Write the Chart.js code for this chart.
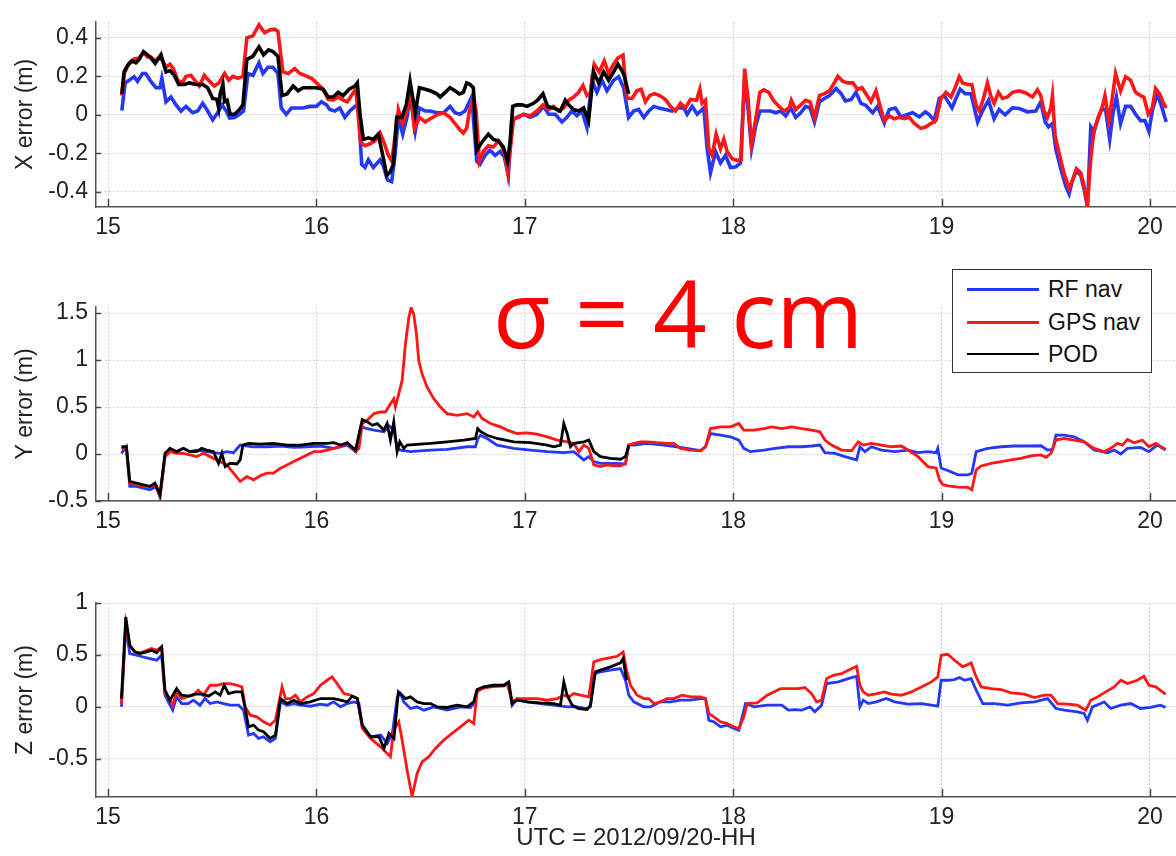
<!DOCTYPE html>
<html>
<head>
<meta charset="utf-8">
<script src="https://cdn.jsdelivr.net/npm/chart.js@4/dist/chart.umd.min.js"></script>
<style>
  body { margin: 0; width: 1176px; height: 856px; background: #fff; position: relative; overflow: hidden; }
  canvas { position: absolute; left: 0; }
  #legend { position: absolute; left: 952px; top: 269px; width: 198px; height: 102px; border: 1.5px solid #333; background: #fff;
            font-family: 'Liberation Sans', Arial, sans-serif; font-size: 23px; color: #111; }
  #legend .row { position: absolute; left: 0; height: 30px; width: 100%; }
  #legend .swatch { position: absolute; left: 14px; top: 14px; width: 72px; }
  #legend .label { position: absolute; left: 95px; top: 2px; }
  #sigma { position: absolute; left: 493px; top: 265px; font-family: 'Open Sans', 'Noto Sans', sans-serif; font-size: 94px; line-height: 94px; color: #ff0000; white-space: pre; }
</style>
</head>
<body>
<canvas id="chartX" width="1176" height="240" style="top:0px"></canvas>
<canvas id="chartY" width="1176" height="280" style="top:260px"></canvas>
<canvas id="chartZ" width="1176" height="296" style="top:560px"></canvas>
<div id="sigma">σ = 4 cm</div>
<div id="legend"></div>
<script>
// series names / colours (legend order)
const seriesNames = ['RF nav', 'GPS nav', 'POD'];
const seriesColors = ['#2438f5', '#ff1616', '#000000'];
const xTicks = [15, 16, 17, 18, 19, 20];
const xAxisTitle = 'UTC = 2012/09/20-HH';

// [hour, error (m)] pairs
const xRF = [[15.066,0.023],[15.082,0.166],[15.101,0.18],[15.125,0.198],[15.141,0.174],[15.165,0.215],[15.181,0.215],[15.205,0.174],[15.230,0.141],[15.249,0.141],[15.258,0.19],[15.278,0.068],[15.302,0.093],[15.326,0.052],[15.350,0.02],[15.374,0.044],[15.406,0.011],[15.430,0.02],[15.454,0.06],[15.478,0.02],[15.502,-0.026],[15.526,0.011],[15.547,0.052],[15.567,0.02],[15.583,-0.016],[15.607,-0.013],[15.631,0.003],[15.650,0.02],[15.671,0.215],[15.695,0.205],[15.724,0.27],[15.743,0.215],[15.767,0.247],[15.791,0.247],[15.815,0.215],[15.831,0.036],[15.855,0.003],[15.880,0.036],[15.904,0.036],[15.936,0.036],[15.968,0.044],[16.000,0.044],[16.024,0.068],[16.048,0.052],[16.064,0.028],[16.088,0.02],[16.112,0.036],[16.136,-0.013],[16.160,0.02],[16.185,0.044],[16.201,0.036],[16.217,-0.257],[16.233,-0.273],[16.249,-0.233],[16.273,-0.273],[16.305,-0.233],[16.321,-0.265],[16.341,-0.338],[16.361,-0.346],[16.377,-0.21],[16.393,-0.013],[16.414,-0.10],[16.436,-0.005],[16.449,0.11],[16.474,-0.086],[16.494,0.036],[16.522,0.02],[16.546,0.02],[16.578,0.011],[16.610,0.011],[16.641,0.044],[16.665,0.011],[16.689,0.003],[16.713,0.02],[16.745,0.093],[16.769,-0.24],[16.785,-0.257],[16.809,-0.21],[16.833,-0.184],[16.857,-0.21],[16.881,-0.19],[16.901,-0.216],[16.921,-0.314],[16.937,-0.03],[16.962,-0.013],[16.994,0.003],[17.026,-0.013],[17.058,0.003],[17.090,0.044],[17.114,0.003],[17.146,0.003],[17.178,-0.037],[17.202,-0.013],[17.226,0.02],[17.250,-0.005],[17.274,0.02],[17.298,-0.065],[17.322,0.18],[17.346,0.117],[17.370,0.18],[17.394,0.125],[17.426,0.18],[17.450,0.198],[17.474,0.141],[17.498,-0.013],[17.522,0.02],[17.546,0.028],[17.571,-0.013],[17.595,0.02],[17.619,0.044],[17.643,0.036],[17.675,0.028],[17.707,0.02],[17.739,0.036],[17.763,0.036],[17.779,0.003],[17.803,0.044],[17.827,0.003],[17.859,0.036],[17.875,-0.176],[17.891,-0.30],[17.915,-0.19],[17.939,-0.25],[17.963,-0.21],[17.987,-0.273],[18.011,-0.27],[18.035,-0.25],[18.055,0.198],[18.072,0.02],[18.088,-0.176],[18.107,-0.062],[18.128,0.02],[18.155,0.02],[18.180,0.02],[18.204,0.011],[18.228,0.02],[18.252,-0.005],[18.276,0.036],[18.300,-0.013],[18.324,0.011],[18.348,0.044],[18.369,0.036],[18.390,-0.037],[18.414,0.068],[18.438,0.085],[18.462,0.10],[18.494,0.137],[18.518,0.11],[18.538,0.072],[18.566,0.08],[18.589,0.117],[18.613,0.06],[18.637,0.049],[18.669,0.011],[18.693,0.044],[18.725,-0.042],[18.749,0.028],[18.778,0.036],[18.805,-0.01],[18.829,0],[18.861,0.011],[18.893,-0.01],[18.922,0.016],[18.941,0],[18.965,-0.03],[18.989,0.085],[19.013,0.10],[19.050,0.036],[19.069,0.085],[19.089,0.133],[19.113,0.11],[19.141,0.11],[19.173,-0.037],[19.196,0.02],[19.225,0.076],[19.252,-0.02],[19.276,0.028],[19.305,0],[19.340,0.036],[19.372,0.033],[19.412,0.016],[19.452,0.02],[19.476,0.068],[19.497,-0.037],[19.513,-0.062],[19.532,-0.045],[19.548,-0.176],[19.572,-0.28],[19.596,-0.37],[19.612,-0.41],[19.628,-0.34],[19.647,-0.29],[19.668,-0.314],[19.684,-0.387],[19.700,-0.476],[19.716,-0.062],[19.732,-0.086],[19.752,-0.013],[19.772,0.036],[19.788,0.02],[19.807,-0.127],[19.823,0.011],[19.839,0.093],[19.859,-0.045],[19.883,0.044],[19.907,0.044],[19.931,0.003],[19.955,-0.03],[19.976,-0.03],[19.995,-0.086],[20.011,0.02],[20.035,0.11],[20.056,0.044],[20.078,-0.037]];
const xGPS = [[15.066,0.10],[15.077,0.215],[15.101,0.27],[15.125,0.29],[15.149,0.295],[15.170,0.325],[15.189,0.30],[15.205,0.30],[15.226,0.28],[15.246,0.30],[15.262,0.28],[15.278,0.247],[15.297,0.263],[15.313,0.24],[15.334,0.18],[15.355,0.165],[15.374,0.20],[15.398,0.205],[15.419,0.175],[15.438,0.15],[15.462,0.205],[15.486,0.175],[15.510,0.15],[15.531,0.165],[15.559,0.215],[15.579,0.18],[15.599,0.20],[15.623,0.19],[15.647,0.20],[15.666,0.40],[15.695,0.41],[15.724,0.467],[15.751,0.426],[15.775,0.44],[15.799,0.445],[15.815,0.434],[15.839,0.223],[15.864,0.215],[15.896,0.24],[15.920,0.215],[15.944,0.205],[15.976,0.19],[16.008,0.158],[16.032,0.133],[16.056,0.08],[16.080,0.076],[16.104,0.093],[16.128,0.076],[16.148,0.068],[16.168,0.10],[16.189,0.133],[16.212,-0.143],[16.233,-0.16],[16.257,-0.15],[16.281,-0.135],[16.305,-0.094],[16.324,-0.143],[16.345,-0.21],[16.361,-0.24],[16.374,-0.14],[16.393,0.028],[16.414,-0.045],[16.433,0.02],[16.449,0.15],[16.470,-0.07],[16.494,-0.013],[16.522,-0.037],[16.546,-0.02],[16.578,0],[16.610,0.011],[16.641,-0.013],[16.665,-0.045],[16.689,-0.078],[16.705,-0.094],[16.721,-0.07],[16.734,0.02],[16.747,0.068],[16.756,0.085],[16.766,0.02],[16.782,-0.24],[16.801,-0.19],[16.825,-0.16],[16.849,-0.167],[16.873,-0.135],[16.889,-0.16],[16.905,-0.21],[16.918,-0.30],[16.929,-0.19],[16.946,-0.02],[16.970,-0.013],[16.994,0.003],[17.026,-0.005],[17.058,0.02],[17.087,0.052],[17.114,0.028],[17.138,0.044],[17.162,0.02],[17.186,0.036],[17.210,0.076],[17.234,0.093],[17.258,0.117],[17.279,0.153],[17.298,0.10],[17.314,0.11],[17.333,0.263],[17.357,0.223],[17.381,0.28],[17.402,0.215],[17.426,0.263],[17.447,0.296],[17.471,0.31],[17.490,0.085],[17.514,0.085],[17.538,0.125],[17.558,0.133],[17.579,0.068],[17.599,0.10],[17.622,0.11],[17.647,0.10],[17.675,0.08],[17.699,0.044],[17.723,0.02],[17.747,0.06],[17.771,0.036],[17.795,0.08],[17.824,0.076],[17.840,0.133],[17.851,0.06],[17.867,0.076],[17.883,-0.176],[17.899,-0.21],[17.918,-0.10],[17.939,-0.176],[17.955,-0.127],[17.971,-0.19],[17.995,-0.228],[18.022,-0.237],[18.038,-0.232],[18.055,0.24],[18.071,0.085],[18.088,-0.15],[18.107,-0.03],[18.128,0.117],[18.147,0.13],[18.171,0.117],[18.192,0.076],[18.220,0.044],[18.244,0.02],[18.268,0.036],[18.279,0.076],[18.300,0.028],[18.324,0.052],[18.348,0.076],[18.369,0.068],[18.390,-0.013],[18.414,0.10],[18.438,0.11],[18.462,0.125],[18.481,0.158],[18.502,0.20],[18.526,0.174],[18.550,0.166],[18.574,0.166],[18.597,0.133],[18.618,0.141],[18.637,0.11],[18.661,0.068],[18.685,0.125],[18.701,0.06],[18.725,-0.03],[18.749,-0.005],[18.773,-0.02],[18.797,-0.013],[18.821,-0.02],[18.845,-0.013],[18.869,-0.045],[18.901,-0.07],[18.925,-0.062],[18.949,-0.045],[18.973,-0.03],[18.997,0.085],[19.021,0.117],[19.045,0.093],[19.065,0.141],[19.085,0.198],[19.101,0.166],[19.125,0.158],[19.145,0.158],[19.165,0.052],[19.181,0.02],[19.201,0.085],[19.220,0.166],[19.236,0.10],[19.252,0.06],[19.273,0.117],[19.292,0.085],[19.316,0.093],[19.340,0.117],[19.372,0.125],[19.404,0.114],[19.436,0.093],[19.460,0.13],[19.476,0.10],[19.492,0.02],[19.508,-0.013],[19.524,0.036],[19.532,0.10],[19.545,-0.11],[19.564,-0.20],[19.588,-0.305],[19.612,-0.38],[19.628,-0.34],[19.647,-0.28],[19.668,-0.30],[19.684,-0.37],[19.700,-0.47],[19.716,-0.225],[19.732,-0.078],[19.752,-0.013],[19.772,0.044],[19.784,0.10],[19.803,-0.03],[19.819,0.085],[19.835,0.215],[19.859,0.125],[19.883,0.198],[19.907,0.18],[19.931,0.117],[19.955,0.10],[19.971,0.093],[19.992,0.003],[20.011,0.036],[20.027,0.137],[20.046,0.11],[20.062,0.068],[20.078,0.036]];
const xPOD = [[15.066,0.109],[15.077,0.223],[15.093,0.255],[15.114,0.28],[15.133,0.27],[15.149,0.288],[15.170,0.328],[15.189,0.312],[15.205,0.296],[15.226,0.267],[15.254,0.312],[15.278,0.223],[15.297,0.23],[15.318,0.205],[15.339,0.158],[15.366,0.158],[15.390,0.166],[15.422,0.158],[15.454,0.158],[15.478,0.141],[15.502,0.085],[15.522,0.081],[15.531,0.036],[15.538,0.109],[15.551,0.158],[15.559,0.068],[15.571,0.076],[15.586,0.003],[15.607,0.003],[15.631,0.028],[15.647,0.052],[15.666,0.288],[15.695,0.304],[15.724,0.353],[15.746,0.312],[15.770,0.337],[15.791,0.328],[15.815,0.304],[15.835,0.10],[15.859,0.109],[15.888,0.15],[15.912,0.125],[15.936,0.141],[15.968,0.141],[16.000,0.141],[16.032,0.133],[16.056,0.093],[16.080,0.093],[16.104,0.117],[16.128,0.10],[16.157,0.133],[16.185,0.15],[16.196,0.166],[16.209,0.003],[16.225,-0.127],[16.249,-0.119],[16.273,-0.127],[16.297,-0.10],[16.321,-0.224],[16.337,-0.314],[16.353,-0.298],[16.369,-0.257],[16.385,-0.013],[16.410,-0.013],[16.431,0.052],[16.449,0.174],[16.474,0.011],[16.494,0.141],[16.522,0.133],[16.546,0.125],[16.578,0.109],[16.594,0.093],[16.618,0.117],[16.641,0.141],[16.665,0.125],[16.686,0.109],[16.705,0.117],[16.721,0.166],[16.737,0.158],[16.753,0.141],[16.769,-0.184],[16.793,-0.143],[16.825,-0.10],[16.849,-0.127],[16.873,-0.135],[16.897,-0.167],[16.917,-0.24],[16.929,-0.143],[16.942,0.044],[16.962,0.052],[16.986,0.052],[17.010,0.044],[17.042,0.06],[17.061,0.076],[17.087,0.109],[17.109,0.044],[17.138,0.036],[17.170,0.02],[17.194,0.076],[17.210,0.052],[17.234,0.028],[17.258,0.02],[17.282,0.036],[17.306,-0.03],[17.330,0.223],[17.354,0.166],[17.378,0.223],[17.402,0.18],[17.426,0.223],[17.447,0.263],[17.466,0.23],[17.478,0.2],[17.498,0.109]];

const yRF = [[15.064,0.007],[15.088,0.077],[15.104,-0.345],[15.136,-0.345],[15.169,-0.363],[15.201,-0.38],[15.233,-0.345],[15.249,-0.458],[15.273,-0.028],[15.297,0.06],[15.329,0.025],[15.361,0.06],[15.393,0.025],[15.425,0.042],[15.473,0.025],[15.506,0.014],[15.538,0.007],[15.570,0.025],[15.602,0.014],[15.634,0.095],[15.698,0.077],[15.762,0.077],[15.827,0.085],[15.891,0.07],[15.955,0.077],[16.019,0.085],[16.083,0.06],[16.148,0.095],[16.188,0.025],[16.212,0.289],[16.244,0.271],[16.276,0.254],[16.324,0.236],[16.347,0.30],[16.371,0.26],[16.387,0.06],[16.403,0.042],[16.451,0.025],[16.547,0.042],[16.627,0.05],[16.723,0.077],[16.763,0.077],[16.774,0.16],[16.787,0.20],[16.819,0.165],[16.867,0.095],[16.947,0.06],[17.027,0.042],[17.107,0.025],[17.187,0.014],[17.235,0.025],[17.283,-0.063],[17.307,-0.028],[17.331,-0.081],[17.363,-0.1],[17.427,-0.1],[17.483,-0.106],[17.499,0.095],[17.523,0.095],[17.587,0.113],[17.667,0.095],[17.747,0.07],[17.843,0.035],[17.867,0.077],[17.891,0.218],[17.939,0.2],[17.987,0.183],[18.027,0.148],[18.051,0.06],[18.083,0.025],[18.147,0.042],[18.201,0.06],[18.265,0.077],[18.329,0.077],[18.376,0.085],[18.416,0.095],[18.440,0.014],[18.488,0.007],[18.536,-0.028],[18.592,-0.063],[18.608,0.077],[18.632,0.025],[18.663,0.077],[18.711,0.042],[18.775,0.025],[18.839,0.042],[18.887,0.014],[18.935,0.025],[18.974,0.014],[18.982,0.06],[18.998,-0.151],[19.030,-0.176],[19.078,-0.222],[19.126,-0.222],[19.145,-0.204],[19.166,0.025],[19.222,0.06],[19.286,0.077],[19.349,0.085],[19.413,0.085],[19.477,0.088],[19.509,0.042],[19.533,0.049],[19.549,0.20],[19.589,0.20],[19.636,0.183],[19.684,0.13],[19.732,0.042],[19.796,0.014],[19.828,0.042],[19.860,0],[19.892,0.06],[19.955,0.07],[19.995,0.025],[20.035,0.095],[20.075,0.042]];
const yGPS = [[15.064,0.06],[15.088,0.06],[15.104,-0.31],[15.136,-0.327],[15.169,-0.345],[15.201,-0.345],[15.225,-0.33],[15.249,-0.45],[15.273,-0.03],[15.297,0.025],[15.329,0.007],[15.361,0.007],[15.393,-0.01],[15.425,-0.028],[15.457,0.007],[15.490,-0.028],[15.522,-0.063],[15.570,-0.116],[15.602,-0.204],[15.634,-0.292],[15.666,-0.24],[15.698,-0.275],[15.730,-0.232],[15.762,-0.204],[15.794,-0.204],[15.827,-0.151],[15.859,-0.116],[15.891,-0.081],[15.923,-0.046],[15.955,-0.01],[15.987,0.025],[16.019,0.025],[16.051,0.042],[16.083,0.06],[16.115,0.077],[16.148,0.12],[16.172,0.06],[16.188,0.025],[16.204,0.06],[16.220,0.324],[16.244,0.36],[16.276,0.43],[16.308,0.447],[16.331,0.447],[16.355,0.535],[16.371,0.588],[16.379,0.50],[16.395,0.64],[16.411,0.78],[16.427,1.17],[16.443,1.45],[16.454,1.556],[16.467,1.486],[16.480,1.27],[16.491,0.99],[16.507,0.852],[16.531,0.71],[16.563,0.588],[16.595,0.50],[16.627,0.43],[16.675,0.412],[16.723,0.43],[16.755,0.394],[16.774,0.447],[16.795,0.377],[16.835,0.324],[16.883,0.289],[16.915,0.254],[16.963,0.218],[17.011,0.225],[17.059,0.211],[17.107,0.183],[17.155,0.148],[17.203,0.13],[17.235,0.113],[17.259,0.025],[17.283,0.095],[17.307,0.06],[17.331,-0.116],[17.363,-0.134],[17.395,-0.116],[17.427,-0.127],[17.459,-0.127],[17.483,-0.1],[17.499,0.095],[17.523,0.113],[17.555,0.13],[17.587,0.13],[17.635,0.12],[17.683,0.113],[17.715,0.113],[17.747,0.06],[17.795,0.042],[17.843,0.035],[17.867,0.077],[17.891,0.271],[17.939,0.289],[17.987,0.289],[18.027,0.324],[18.051,0.254],[18.099,0.254],[18.147,0.271],[18.185,0.289],[18.233,0.271],[18.281,0.289],[18.329,0.271],[18.376,0.254],[18.416,0.236],[18.440,0.148],[18.472,0.095],[18.520,0.042],[18.568,0.035],[18.600,0.13],[18.624,0.095],[18.663,0.113],[18.711,0.095],[18.759,0.077],[18.807,0.085],[18.839,0.042],[18.887,-0.028],[18.935,-0.134],[18.974,-0.151],[18.990,-0.275],[19.006,-0.327],[19.030,-0.338],[19.078,-0.352],[19.126,-0.355],[19.145,-0.38],[19.166,-0.169],[19.190,-0.127],[19.238,-0.099],[19.286,-0.081],[19.333,-0.063],[19.381,-0.046],[19.429,-0.021],[19.477,-0.01],[19.501,-0.035],[19.525,0.007],[19.549,0.148],[19.589,0.165],[19.636,0.148],[19.684,0.13],[19.732,0.06],[19.780,0.025],[19.812,0.06],[19.844,0.113],[19.868,0.095],[19.892,0.155],[19.924,0.12],[19.963,0.148],[19.995,0.077],[20.027,0.113],[20.075,0.049]];
const yPOD = [[15.064,0.077],[15.088,0.077],[15.104,-0.292],[15.136,-0.31],[15.169,-0.327],[15.201,-0.345],[15.225,-0.31],[15.249,-0.433],[15.273,0.007],[15.297,0.06],[15.329,0.025],[15.361,0.06],[15.393,0.025],[15.425,0.025],[15.449,0.06],[15.473,0.042],[15.506,0.025],[15.530,-0.099],[15.546,0.007],[15.562,-0.134],[15.586,-0.099],[15.618,-0.106],[15.634,-0.063],[15.647,0.095],[15.674,0.113],[15.730,0.106],[15.794,0.113],[15.859,0.095],[15.923,0.095],[15.987,0.113],[16.051,0.113],[16.083,0.12],[16.115,0.095],[16.148,0.12],[16.188,0.042],[16.220,0.366],[16.244,0.342],[16.268,0.306],[16.292,0.324],[16.316,0.271],[16.323,0.254],[16.339,0.324],[16.355,0.148],[16.371,0.342],[16.387,0.025],[16.400,0.13],[16.419,0.06],[16.435,0.095],[16.547,0.113],[16.627,0.13],[16.707,0.148],[16.763,0.165],[16.774,0.271],[16.787,0.24],[16.819,0.2],[16.867,0.165],[16.947,0.13],[17.027,0.12],[17.107,0.095],[17.139,0.077],[17.171,0.095],[17.187,0.324],[17.203,0.218],[17.219,0.077],[17.235,0.113],[17.283,0.13],[17.307,0.148],[17.331,0.025],[17.363,-0.028],[17.411,-0.046],[17.459,-0.056],[17.483,-0.028],[17.499,0.095]];

const zRF = [[15.064,0],[15.085,0.77],[15.104,0.513],[15.136,0.497],[15.169,0.48],[15.201,0.465],[15.233,0.449],[15.257,0.497],[15.273,0.112],[15.289,0.048],[15.310,-0.032],[15.329,0.096],[15.353,0.032],[15.385,0.032],[15.409,0.064],[15.441,0.016],[15.465,0.08],[15.490,0.032],[15.522,0.048],[15.554,0.032],[15.586,0.016],[15.626,0.016],[15.650,-0.032],[15.674,-0.272],[15.698,-0.256],[15.722,-0.304],[15.746,-0.288],[15.778,-0.337],[15.803,-0.304],[15.827,0.048],[15.859,0.016],[15.891,0.032],[15.923,0.016],[15.971,0.006],[16.019,0.026],[16.051,0.016],[16.083,0.048],[16.115,0],[16.148,0.032],[16.180,0.048],[16.204,0.032],[16.220,-0.192],[16.260,-0.288],[16.308,-0.272],[16.340,-0.353],[16.364,-0.256],[16.388,0.096],[16.403,0.128],[16.419,0.048],[16.451,-0.016],[16.483,0],[16.515,-0.032],[16.563,0],[16.627,-0.032],[16.691,0],[16.739,-0.006],[16.755,0.032],[16.771,0.16],[16.803,0.192],[16.851,0.208],[16.899,0.199],[16.923,0.224],[16.939,0.016],[16.963,0.08],[17.011,0.048],[17.075,0.032],[17.139,0.016],[17.203,0],[17.251,0],[17.299,-0.016],[17.315,0],[17.331,0.32],[17.363,0.337],[17.411,0.353],[17.459,0.369],[17.483,0.256],[17.499,0.112],[17.523,0.048],[17.571,0],[17.603,0],[17.651,0.048],[17.699,0.048],[17.747,0.064],[17.795,0.064],[17.843,0.08],[17.867,0.08],[17.883,-0.128],[17.907,-0.144],[17.939,-0.192],[17.971,-0.176],[18.003,-0.208],[18.027,-0.224],[18.059,0.032],[18.099,0],[18.163,0.016],[18.233,0.016],[18.265,-0.032],[18.297,-0.026],[18.329,-0.032],[18.368,0],[18.392,-0.048],[18.424,0.016],[18.448,0.224],[18.504,0.24],[18.552,0.272],[18.592,0.295],[18.608,0],[18.624,0.064],[18.648,0.032],[18.687,0.048],[18.735,0.08],[18.775,0.048],[18.839,0.026],[18.903,0.032],[18.951,0.016],[18.982,0.006],[18.998,0.256],[19.030,0.256],[19.062,0.263],[19.086,0.282],[19.110,0.256],[19.142,0.272],[19.166,0.16],[19.198,0.032],[19.254,0.032],[19.317,0.016],[19.381,0.038],[19.445,0.048],[19.509,0.08],[19.549,-0.016],[19.589,-0.032],[19.652,-0.048],[19.684,-0.064],[19.700,-0.128],[19.724,0],[19.764,0.032],[19.780,0.048],[19.812,-0.016],[19.860,0.016],[19.908,0.032],[19.955,-0.016],[20.003,-0.006],[20.051,0.016],[20.075,-0.006]];
const zGPS = [[15.064,0.032],[15.085,0.80],[15.104,0.593],[15.128,0.529],[15.152,0.519],[15.185,0.545],[15.209,0.561],[15.233,0.545],[15.257,0.577],[15.273,0.128],[15.289,0.096],[15.310,0.016],[15.329,0.144],[15.353,0.08],[15.377,0.096],[15.409,0.112],[15.433,0.16],[15.457,0.112],[15.490,0.208],[15.522,0.208],[15.554,0.224],[15.586,0.224],[15.618,0.208],[15.642,0.192],[15.658,0],[15.682,-0.08],[15.714,-0.096],[15.746,-0.144],[15.778,-0.176],[15.803,-0.128],[15.819,0.032],[15.835,0.192],[15.851,0.08],[15.875,0.08],[15.899,0.112],[15.923,0.048],[15.955,0.096],[15.987,0.128],[16.019,0.208],[16.051,0.256],[16.075,0.288],[16.099,0.224],[16.132,0.128],[16.164,0.112],[16.196,0.08],[16.220,-0.208],[16.260,-0.304],[16.308,-0.385],[16.355,-0.48],[16.371,-0.224],[16.395,-0.144],[16.411,-0.32],[16.435,-0.609],[16.459,-0.865],[16.483,-0.641],[16.507,-0.529],[16.539,-0.48],[16.571,-0.40],[16.611,-0.32],[16.651,-0.256],[16.691,-0.192],[16.731,-0.128],[16.755,-0.16],[16.771,0.144],[16.795,0.176],[16.835,0.192],[16.883,0.199],[16.915,0.224],[16.939,0.048],[16.963,0.08],[17.011,0.08],[17.059,0.08],[17.107,0.064],[17.155,0.08],[17.187,0.112],[17.211,0.096],[17.235,0.128],[17.267,0.112],[17.307,0.096],[17.331,0.433],[17.363,0.455],[17.411,0.474],[17.443,0.487],[17.472,0.529],[17.488,0.353],[17.507,0.208],[17.539,0.112],[17.571,0.08],[17.595,0.08],[17.619,0.032],[17.651,0.048],[17.683,0.08],[17.715,0.08],[17.755,0.112],[17.795,0.096],[17.843,0.096],[17.867,0.08],[17.883,-0.064],[17.907,-0.096],[17.939,-0.144],[17.971,-0.16],[18.003,-0.192],[18.027,-0.208],[18.051,-0.096],[18.067,0.032],[18.115,0.038],[18.163,0.112],[18.195,0.144],[18.227,0.176],[18.265,0.176],[18.313,0.176],[18.344,0.186],[18.376,0.128],[18.400,0.048],[18.424,0.064],[18.448,0.272],[18.480,0.304],[18.520,0.32],[18.552,0.353],[18.592,0.391],[18.608,0.208],[18.624,0.144],[18.648,0.112],[18.679,0.122],[18.727,0.144],[18.759,0.122],[18.807,0.112],[18.855,0.144],[18.903,0.192],[18.951,0.24],[18.982,0.288],[18.998,0.497],[19.030,0.506],[19.062,0.449],[19.102,0.385],[19.142,0.423],[19.166,0.288],[19.190,0.192],[19.238,0.176],[19.286,0.167],[19.333,0.135],[19.397,0.122],[19.445,0.09],[19.493,0.112],[19.525,0.112],[19.557,0.032],[19.605,0.026],[19.652,0.016],[19.692,-0.032],[19.716,0.064],[19.748,0.096],[19.780,0.135],[19.828,0.192],[19.860,0.256],[19.892,0.224],[19.939,0.256],[19.971,0.295],[19.995,0.208],[20.027,0.192],[20.075,0.122]];
const zPOD = [[15.064,0.08],[15.085,0.865],[15.104,0.593],[15.128,0.529],[15.152,0.513],[15.185,0.529],[15.209,0.545],[15.233,0.52],[15.257,0.577],[15.273,0.16],[15.297,0.064],[15.329,0.176],[15.353,0.112],[15.385,0.103],[15.417,0.122],[15.449,0.122],[15.482,0.103],[15.514,0.144],[15.538,0.112],[15.557,0.208],[15.578,0.128],[15.610,0.144],[15.642,0.144],[15.658,-0.016],[15.674,-0.192],[15.698,-0.176],[15.722,-0.224],[15.746,-0.24],[15.778,-0.304],[15.803,-0.272],[15.827,0.08],[15.859,0.032],[15.891,0.064],[15.923,0.032],[15.971,0.048],[16.019,0.08],[16.083,0.08],[16.115,0.064],[16.148,0.048],[16.172,0.103],[16.196,0.08],[16.220,-0.176],[16.260,-0.288],[16.300,-0.288],[16.324,-0.40],[16.348,-0.256],[16.372,-0.304],[16.393,0.144],[16.411,0.112],[16.427,0.08],[16.451,0.096],[16.483,0.048],[16.515,0.032],[16.547,0.032],[16.579,0],[16.627,-0.006],[16.675,0.016],[16.723,0],[16.755,0.048],[16.771,0.167],[16.803,0.192],[16.851,0.208],[16.899,0.208],[16.923,0.24],[16.939,0.032],[16.963,0.064],[17.011,0.048],[17.075,0.038],[17.139,0.032],[17.171,0.016],[17.187,0.24],[17.203,0.112],[17.227,0.016],[17.259,-0.016],[17.299,-0.026],[17.315,0.016],[17.339,0.337],[17.363,0.353],[17.411,0.385],[17.459,0.423],[17.472,0.465],[17.488,0.256]];

const FONT = { family: "'Liberation Sans', Arial, sans-serif", size: 23 };
const TITLE_FONT = { family: "'Liberation Sans', Arial, sans-serif", size: 24 };

// small tick marks pointing into the plot, like the original figure
const inwardTicks = {
  id: 'inwardTicks',
  afterDraw(chart) {
    const { ctx, chartArea: a, scales } = chart;
    ctx.save();
    ctx.strokeStyle = '#444';
    ctx.lineWidth = 1.5;
    scales.x.ticks.forEach((t) => {
      const px = Math.round(scales.x.getPixelForValue(t.value)) + 0.5;
      ctx.beginPath();
      ctx.moveTo(px, a.bottom);
      ctx.lineTo(px, a.bottom - 8);
      ctx.stroke();
    });
    scales.y.ticks.forEach((t) => {
      const py = Math.round(scales.y.getPixelForValue(t.value)) + 0.5;
      ctx.beginPath();
      ctx.moveTo(a.left, py);
      ctx.lineTo(a.left + 5, py);
      ctx.stroke();
    });
    ctx.restore();
  },
};

function makePanel(canvasId, rf, gps, pod, cfg) {
  const canvas = document.getElementById(canvasId);
  const ctx = canvas.getContext('2d');
  const toXY = (arr) => arr.map((p) => ({ x: p[0], y: p[1] }));
  const sets = [rf, gps, pod].map((d, i) => ({
    label: seriesNames[i],
    data: toXY(d),
    borderColor: seriesColors[i],
    borderWidth: cfg.lineWidth,
    pointRadius: 0,
    tension: 0,
    order: 3 - i, // POD on top
  }));

  return new Chart(ctx, {
    type: 'line',
    data: { datasets: sets },
    options: {
      responsive: false,
      animation: false,
      layout: { padding: { top: cfg.padTop, left: 0, right: 0, bottom: 0 } },
      plugins: { legend: { display: false }, tooltip: { enabled: false } },
      scales: {
        x: {
          type: 'linear',
          min: 14.942,
          max: 20.125,
          afterBuildTicks: (s) => { s.ticks = xTicks.map((v) => ({ value: v })); },
          ticks: { font: FONT, color: '#222', padding: 7, maxRotation: 0, callback: (v) => String(v) },
          grid: { color: '#cfcfcf', lineWidth: 1, drawTicks: false },
          border: { color: '#555', width: 1.5, dash: [2, 2] },
          title: cfg.xTitle
            ? { display: true, text: cfg.xTitle, font: TITLE_FONT, color: '#222', padding: { top: 0, bottom: 3 } }
            : { display: false },
          afterFit: (s) => { s.height = cfg.xHeight; },
        },
        y: {
          min: cfg.yMin,
          max: cfg.yMax,
          afterBuildTicks: (s) => { s.ticks = cfg.yTicks.map((v) => ({ value: v })); },
          ticks: { font: FONT, color: '#222', padding: 8, callback: (v) => String(v) },
          grid: { color: '#cfcfcf', lineWidth: 1, drawTicks: false },
          border: { color: '#555', width: 1.5, dash: [2, 2] },
          title: { display: true, text: cfg.yTitle, font: FONT, color: '#222', padding: { top: 12, bottom: 0 } },
          afterFit: (s) => { s.width = 96; },
        },
      },
    },
    plugins: [inwardTicks],
  });
}

makePanel('chartX', xRF, xGPS, xPOD, {
  yTitle: 'X error (m)', yMin: -0.478, yMax: 0.483, yTicks: [-0.4, -0.2, 0, 0.2, 0.4],
  padTop: 10, xHeight: 33, lineWidth: 3.6,
});
makePanel('chartY', yRF, yGPS, yPOD, {
  yTitle: 'Y error (m)', yMin: -0.5, yMax: 1.564, yTicks: [-0.5, 0, 0.5, 1, 1.5],
  padTop: 47, xHeight: 39, lineWidth: 2.8,
});
makePanel('chartZ', zRF, zGPS, zPOD, {
  yTitle: 'Z error (m)', yMin: -0.868, yMax: 1.0, yTicks: [-0.5, 0, 0.5, 1],
  padTop: 43, xHeight: 59, lineWidth: 2.8, xTitle: xAxisTitle,
});

// legend box (drawn over the middle panel)
const legend = document.getElementById('legend');
seriesNames.forEach((name, i) => {
  const row = document.createElement('div');
  row.className = 'row';
  row.style.top = (4 + i * 32.5) + 'px';
  const sw = document.createElement('div');
  sw.className = 'swatch';
  sw.style.borderTop = (i === 2 ? 2.5 : 3) + 'px solid ' + seriesColors[i];
  const lb = document.createElement('div');
  lb.className = 'label';
  lb.textContent = name;
  row.appendChild(sw);
  row.appendChild(lb);
  legend.appendChild(row);
});
</script>
</body>
</html>
